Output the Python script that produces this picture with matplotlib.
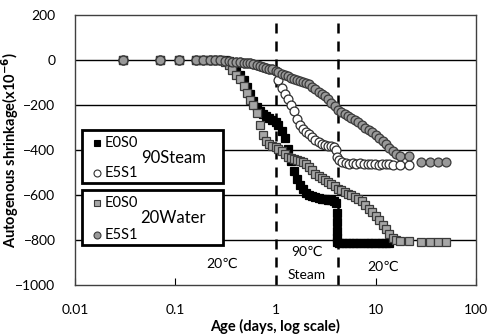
import matplotlib
matplotlib.use("Agg")
import matplotlib.pyplot as plt
from matplotlib.patches import Rectangle

plt.rcParams["font.family"] = ["Lato", "DejaVu Sans"]

# === data ===
x_ticks = [0.01, 0.1, 1, 10, 100]
x_labels = ["0.01", "0.1", "1", "10", "100"]
y_ticks = [-1000, -800, -600, -400, -200, 0, 200]
steam_start, steam_end = 1.0, 4.17

age_water = [0.03, 0.07, 0.11, 0.16, 0.19, 0.22, 0.25, 0.28, 0.31, 0.34,
             0.37, 0.40, 0.44, 0.48, 0.52, 0.56, 0.60, 0.65, 0.70, 0.75,
             0.80, 0.86, 0.92, 1.00, 1.07, 1.15, 1.23, 1.32, 1.42, 1.52,
             1.63, 1.75, 1.88, 2.00, 2.15, 2.30, 2.50, 2.70, 2.90, 3.10,
             3.35, 3.60, 3.90, 4.20, 4.50, 4.90, 5.30, 5.70, 6.20, 6.70,
             7.30, 7.90, 8.50, 9.20, 10.0, 10.8, 11.7, 12.6, 13.6, 14.7,
             16.0, 17.5, 21.5, 28.0, 35.0, 42.0, 50.0]
water_e0s0 = [0, 0, 0, 0, 0, 0, 0, 0, -8, -20,
              -45, -65, -85, -115, -145, -178, -200, -235, -290, -335,
              -360, -372, -380, -388, -395, -405, -418, -430, -436, -440,
              -445, -450, -455, -460, -475, -490, -505, -515, -525, -533,
              -542, -552, -562, -572, -578, -586, -594, -600, -608, -618,
              -628, -645, -660, -675, -695, -712, -732, -752, -772, -790,
              -800, -805, -805, -808, -808, -808, -808]
water_e5s1 = [0, 0, 0, 0, 0, 0, 0, 0, -3, -6,
              -8, -10, -11, -12, -13, -15, -18, -22, -27, -31,
              -35, -38, -42, -48, -55, -60, -66, -72, -78, -83,
              -88, -92, -97, -102, -108, -118, -130, -140, -152, -162,
              -175, -190, -205, -220, -232, -242, -250, -258, -265, -275,
              -288, -300, -312, -322, -335, -348, -362, -375, -390, -405,
              -418, -425, -425, -455, -455, -455, -455]

age_steam_e0s0 = [0.03, 0.07, 0.11, 0.16, 0.19, 0.22, 0.25, 0.28, 0.31, 0.34,
                  0.37, 0.40, 0.44, 0.48, 0.52, 0.56, 0.60, 0.65, 0.70, 0.75,
                  0.80, 0.86, 0.92, 1.00, 1.07, 1.15, 1.23, 1.32, 1.42, 1.52,
                  1.63, 1.75, 1.88, 2.00, 2.15, 2.30, 2.50, 2.70, 2.90, 3.10,
                  3.35, 3.60, 3.85, 4.05, 4.10, 4.10, 4.10, 4.10, 4.12, 4.30,
                  4.60, 5.00, 5.40, 5.90, 6.40, 7.00, 7.60, 8.30, 9.00, 9.80,
                  10.7, 11.6, 12.6, 13.7]
steam_e0s0 = [0, 0, 0, 0, 0, 0, 0, 0, 0, -5,
              -20, -40, -65, -90, -120, -150, -180, -210, -228, -238,
              -248, -258, -265, -275, -290, -315, -345, -395, -450, -495,
              -530, -555, -575, -590, -598, -604, -610, -614, -617, -619,
              -621, -623, -625, -635, -680, -720, -760, -790, -808, -812,
              -812, -812, -812, -812, -812, -812, -812, -812, -812, -812,
              -812, -812, -812, -812]

age_steam_e5s1 = [0.03, 0.07, 0.11, 0.16, 0.19, 0.22, 0.25, 0.28, 0.31, 0.34,
                  0.37, 0.40, 0.44, 0.48, 0.52, 0.56, 0.60, 0.65, 0.70, 0.75,
                  0.80, 0.86, 0.92, 1.00, 1.07, 1.15, 1.23, 1.32, 1.42, 1.52,
                  1.63, 1.75, 1.88, 2.00, 2.15, 2.30, 2.50, 2.70, 2.90, 3.10,
                  3.35, 3.60, 3.85, 4.05, 4.15, 4.30, 4.60, 5.00, 5.40, 5.90,
                  6.40, 7.00, 7.60, 8.30, 9.00, 9.80, 10.7, 11.6, 12.6, 13.7,
                  15.0, 17.5, 21.5]
steam_e5s1 = [0, 0, 0, 0, 0, 0, 0, 0, -3, -6,
              -8, -10, -11, -12, -13, -15, -18, -22, -27, -31,
              -35, -38, -42, -50, -90, -125, -150, -172, -198, -225,
              -260, -290, -308, -318, -328, -342, -355, -365, -372, -376,
              -380, -384, -388, -400, -430, -445, -455, -458, -460, -458,
              -462, -458, -462, -460, -463, -460, -465, -462, -462, -463,
              -465, -467, -467]

# marker styles
sq_black = dict(marker="s", color="black", mec="black")
ci_white = dict(marker="o", color="white", mec="#303030")
sq_gray = dict(marker="s", color="#a6a6a6", mec="#3a3a3a")
ci_gray = dict(marker="o", color="#999999", mec="#3a3a3a")

fig = plt.figure(figsize=(4.95, 3.36), dpi=100)
ax = fig.add_axes([75 / 495, 1 - 285 / 336, 401 / 495, 270 / 336])

for y in [-800, -600, -400, -200, 0]:
    ax.axhline(y, color="black", lw=1.0, zorder=1)

ax.axvline(steam_start, color="black", lw=1.8, dashes=(4, 3.2), zorder=2)
ax.axvline(steam_end, color="black", lw=1.8, dashes=(4, 3.2), zorder=2)

ms = 6.4
ax.plot(age_steam_e0s0, steam_e0s0, ls="none", ms=ms, mew=0.9, zorder=3, **sq_black)
ax.plot(age_steam_e5s1, steam_e5s1, ls="none", ms=ms, mew=0.9, zorder=3, **ci_white)
ax.plot(age_water, water_e0s0, ls="none", ms=ms, mew=0.9, zorder=4, **sq_gray)
ax.plot(age_water, water_e5s1, ls="none", ms=ms, mew=0.9, zorder=4, **ci_gray)

ax.set_xscale("log")
ax.set_xlim(0.01, 100)
ax.set_ylim(-1000, 200)
ax.set_xticks(x_ticks, x_labels)
ax.minorticks_off()
ax.set_yticks(y_ticks)
ax.tick_params(axis="x", direction="in", length=5, pad=14, labelsize=10)
ax.tick_params(axis="y", length=0, pad=14, labelsize=10)
for s in ax.spines.values():
    s.set_color("#404040")
    s.set_linewidth(1.0)

ax.set_xlabel("Age (days, log scale)", fontweight="bold", fontsize=10.5, labelpad=2)
ax.set_ylabel(r"Autogenous shrinkage(x10$^{\mathbf{-6}}$)", fontweight="bold", fontsize=10.5)
ax.yaxis.set_label_coords(-0.135, 0.5)

# temperature annotations
ax.text(0.366, 0.08, "20℃", fontsize=10, ha="center", va="center", transform=ax.transAxes)
ax.text(0.578, 0.122, "90℃", fontsize=10, ha="center", va="center", transform=ax.transAxes)
ax.text(0.578, 0.037, "Steam", fontsize=10, ha="center", va="center", transform=ax.transAxes)
ax.text(0.768, 0.067, "20℃", fontsize=10, ha="center", va="center", transform=ax.transAxes)

# legend boxes drawn by hand (two groups)
for (y0, h, group, lab_y) in [(0.378, 0.196, "90Steam", (0.526, 0.415, 0.470)),
                              (0.148, 0.204, "20Water", (0.304, 0.185, 0.248))]:
    ax.add_patch(Rectangle((0.0175, y0), 0.352, h, transform=ax.transAxes,
                           fc="white", ec="black", lw=2.0, zorder=6))
    st1, st2 = (sq_black, ci_white) if group == "90Steam" else (sq_gray, ci_gray)
    ax.plot([0.055], [lab_y[0]], transform=ax.transAxes, ms=5, mew=0.8, zorder=7, clip_on=False, **st1)
    ax.plot([0.055], [lab_y[1]], transform=ax.transAxes, ms=5, mew=0.8, zorder=7, clip_on=False, **st2)
    ax.text(0.075, lab_y[0], "E0S0", fontsize=10.5, va="center", transform=ax.transAxes, zorder=7)
    ax.text(0.075, lab_y[1], "E5S1", fontsize=10.5, va="center", transform=ax.transAxes, zorder=7)
    ax.text(0.245, lab_y[2], group, fontsize=12, ha="center", va="center", transform=ax.transAxes, zorder=7)

fig.savefig("out.png", dpi=100, facecolor="white")
